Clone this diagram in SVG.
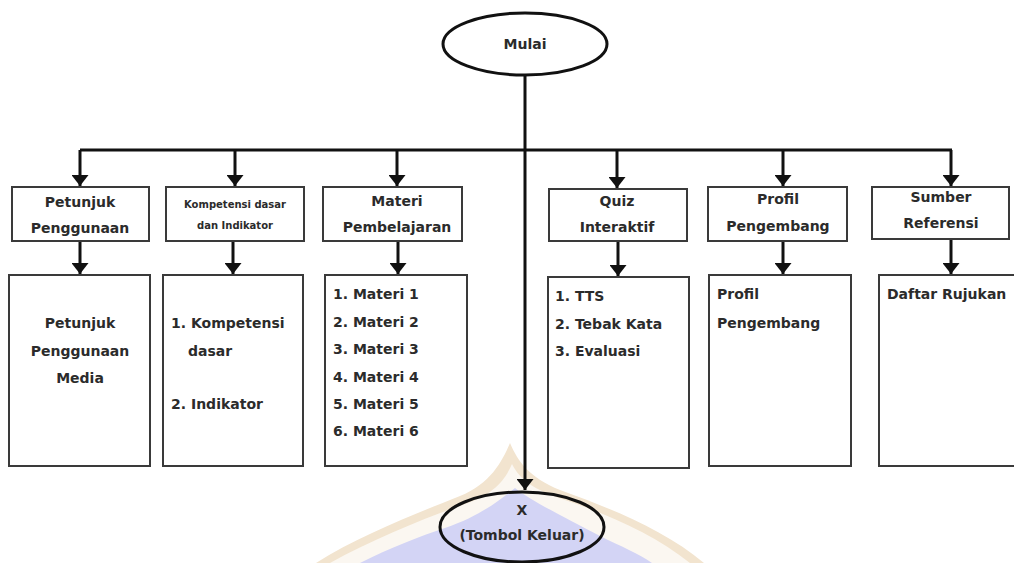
<svg xmlns="http://www.w3.org/2000/svg" width="1014" height="563" viewBox="0 0 1014 563">
<defs>
<style>
.box{fill:#fff;stroke:#3a3a3a;stroke-width:2}
.ell{fill:none;stroke:#111;stroke-width:3}
.con{fill:none;stroke:#111;stroke-width:3}
.t{font-family:"DejaVu Sans","Liberation Sans",sans-serif;font-weight:bold;font-size:14px;fill:#2b2b2b}
.c{text-anchor:middle}
.s{font-size:10px}
</style>
<marker id="ah" viewBox="0 0 11 17" refX="11" refY="8.5" markerWidth="11" markerHeight="17" markerUnits="userSpaceOnUse" orient="auto">
<path d="M0,0 L11,8.5 L0,17 z" fill="#111"/>
</marker>
</defs>
<rect width="1014" height="563" fill="#fff"/>
<g id="watermark">
<path d="M316,563 C360,535 420,512 460,496 C490,484 502,462 510,443 C518,462 530,478 560,490 C610,508 665,530 704,563 Z" fill="#f2e4cf"/>
<path d="M330,563 C375,538 430,516 468,503 C495,493 505,480 512,464 C520,480 535,490 562,499 C610,515 655,535 690,563 Z" fill="#fbf7f1"/>
<path d="M360,563 C390,548 420,536 445,528 C480,516 500,500 515,488 C530,500 560,515 600,536 C620,546 640,554 652,563 Z" fill="#d3d4f5"/>
</g>
<g id="connectors">
<line class="con" x1="525" y1="75" x2="525" y2="490" marker-end="url(#ah)"/>
<line class="con" x1="80" y1="150" x2="952" y2="150"/>
<line class="con" x1="80" y1="150" x2="80" y2="186" marker-end="url(#ah)"/>
<line class="con" x1="235" y1="150" x2="235" y2="186" marker-end="url(#ah)"/>
<line class="con" x1="397" y1="150" x2="397" y2="186" marker-end="url(#ah)"/>
<line class="con" x1="617" y1="150" x2="617" y2="188" marker-end="url(#ah)"/>
<line class="con" x1="783" y1="150" x2="783" y2="186" marker-end="url(#ah)"/>
<line class="con" x1="951" y1="150" x2="951" y2="186" marker-end="url(#ah)"/>
<line class="con" x1="80" y1="241" x2="80" y2="274" marker-end="url(#ah)"/>
<line class="con" x1="233" y1="241" x2="233" y2="274" marker-end="url(#ah)"/>
<line class="con" x1="398" y1="241" x2="398" y2="274" marker-end="url(#ah)"/>
<line class="con" x1="618" y1="241" x2="618" y2="276" marker-end="url(#ah)"/>
<line class="con" x1="783" y1="241" x2="783" y2="274" marker-end="url(#ah)"/>
<line class="con" x1="951" y1="239" x2="951" y2="274" marker-end="url(#ah)"/>
</g>
<g id="mulai">
<ellipse class="ell" cx="525" cy="44" rx="82" ry="31" fill="#fff"/>
<text class="t c" x="525" y="49">Mulai</text>
</g>
<g id="petunjuk">
<rect class="box" x="12" y="187" width="137" height="54"/>
<text class="t c" x="80" y="207">Petunjuk</text>
<text class="t c" x="80" y="233">Penggunaan</text>
</g>
<g id="kompetensi">
<rect class="box" x="166" y="187" width="138" height="54"/>
<text class="t c s" x="235" y="208">Kompetensi dasar</text>
<text class="t c s" x="235" y="229">dan Indikator</text>
</g>
<g id="materi">
<rect class="box" x="323" y="187" width="139" height="54"/>
<text class="t c" x="397" y="206">Materi</text>
<text class="t c" x="397" y="232">Pembelajaran</text>
</g>
<g id="quiz">
<rect class="box" x="549" y="189" width="138" height="52"/>
<text class="t c" x="617" y="206">Quiz</text>
<text class="t c" x="617" y="232">Interaktif</text>
</g>
<g id="profil">
<rect class="box" x="708" y="187" width="139" height="54"/>
<text class="t c" x="778" y="204">Profil</text>
<text class="t c" x="778" y="231">Pengembang</text>
</g>
<g id="sumber">
<rect class="box" x="872" y="187" width="137" height="52"/>
<text class="t c" x="941" y="202">Sumber</text>
<text class="t c" x="941" y="228">Referensi</text>
</g>
<g id="petunjuk-media">
<rect class="box" x="9" y="275" width="141" height="191"/>
<text class="t c" x="80" y="328">Petunjuk</text>
<text class="t c" x="80" y="356">Penggunaan</text>
<text class="t c" x="80" y="383">Media</text>
</g>
<g id="kompetensi-isi">
<rect class="box" x="163" y="275" width="140" height="191"/>
<text class="t" x="171" y="328">1. Kompetensi</text>
<text class="t" x="188" y="356">dasar</text>
<text class="t" x="171" y="409">2. Indikator</text>
</g>
<g id="materi-isi">
<rect class="box" x="325" y="275" width="142" height="191"/>
<text class="t" x="333" y="299">1. Materi 1</text>
<text class="t" x="333" y="327">2. Materi 2</text>
<text class="t" x="333" y="354">3. Materi 3</text>
<text class="t" x="333" y="382">4. Materi 4</text>
<text class="t" x="333" y="409">5. Materi 5</text>
<text class="t" x="333" y="436">6. Materi 6</text>
</g>
<g id="quiz-isi">
<rect class="box" x="548" y="277" width="141" height="191"/>
<text class="t" x="555" y="301">1. TTS</text>
<text class="t" x="555" y="329">2. Tebak Kata</text>
<text class="t" x="555" y="356">3. Evaluasi</text>
</g>
<g id="profil-isi">
<rect class="box" x="709" y="275" width="142" height="191"/>
<text class="t" x="717" y="299">Profil</text>
<text class="t" x="717" y="328">Pengembang</text>
</g>
<g id="daftar-isi">
<rect class="box" x="879" y="275" width="145" height="191"/>
<text class="t" x="887" y="299">Daftar Rujukan</text>
</g>
<g id="keluar">
<ellipse class="ell" cx="522" cy="527" rx="82" ry="35"/>
<text class="t c" x="522" y="515">X</text>
<text class="t c" x="522" y="540">(Tombol Keluar)</text>
</g>
</svg>
